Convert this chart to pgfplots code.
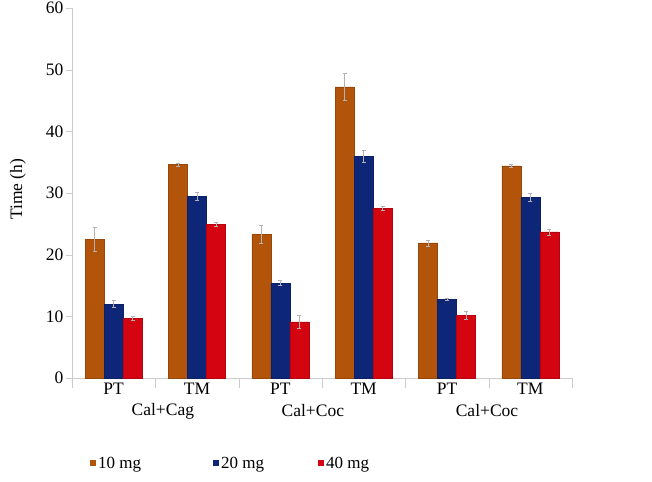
\documentclass[border=0pt]{standalone}
\usepackage{pgfplots}
\usepackage{pgfplotstable}
\pgfplotsset{compat=1.18}
\usepackage{fontspec}
\setmainfont{Liberation Serif}
\definecolor{c10}{RGB}{178,84,10}
\definecolor{c20}{RGB}{14,38,120}
\definecolor{c40}{RGB}{212,4,16}
\newcommand\fs{\fontsize{17.5bp}{20bp}\selectfont}
\newcommand\fl{\fontsize{17bp}{20bp}\selectfont}
\pgfplotstableread{
x y e
0 22.5 2.0
1 34.6 0.2
2 23.3 1.4
3 47.2 2.2
4 21.9 0.5
5 34.4 0.2
}\tA
\pgfplotstableread{
x y e
0 12.0 0.6
1 29.5 0.6
2 15.4 0.4
3 36.0 1.0
4 12.8 0.2
5 29.3 0.6
}\tB
\pgfplotstableread{
x y e
0 9.7 0.3
1 24.9 0.3
2 9.1 1.0
3 27.5 0.3
4 10.2 0.7
5 23.7 0.5
}\tC
\begin{document}
\begin{tikzpicture}
\path[use as bounding box] (-72bp,-104bp) rectangle (580bp,378bp);
\begin{axis}[
 at={(0,0)}, anchor=south west,
 scale only axis, width=500bp, height=370bp,
 ybar=0pt, bar width=19bp,
 xmin=-0.5, xmax=5.5, ymin=0, ymax=60,
 xtick={0,...,5}, xticklabels={PT,TM,PT,TM,PT,TM},
 minor xtick={-0.5,0.5,...,5.5},
 ytick={0,10,...,60},
 axis x line=bottom, axis y line=left,
 axis line style={-, gray!40},
 tick align=outside,
 major x tick style={draw=none},
 minor x tick style={gray!40},
 minor tick length=10bp, major tick length=6bp,
 y tick style={gray!40},
 /pgf/number format/assume math mode=true,
 ticklabel style={font=\fs},
 xticklabel style={yshift=4bp},
 yticklabel style={xshift=1bp},
 ylabel={Time (h)},
 ylabel style={font=\fs, at={(axis description cs:-0.108,0.51)}, anchor=center},
 legend columns=3,
 legend style={draw=none, font=\fl, inner sep=0pt, at={(rel axis cs:0.036,-0.23)}, anchor=west,
   /tikz/column 2/.style={column sep=70bp}, /tikz/column 4/.style={column sep=52bp}},
 legend image code/.code={\path[#1, draw=none] (0bp,-3bp) rectangle (6bp,3bp);},
 error bars/y dir=both, error bars/y explicit,
 error bars/error bar style={gray!60, line width=0.5pt},
 error bars/error mark options={rotate=90, mark size=2bp, gray!60, line width=0.5pt},
 clip=false,
]
\addplot[fill=c10, draw=c10!85!black, line width=0.3pt] table[x=x, y=y, y error=e] {\tA};
\addplot[fill=c20, draw=c20!85!black, line width=0.3pt] table[x=x, y=y, y error=e] {\tB};
\addplot[fill=c40, draw=c40!85!black, line width=0.3pt] table[x=x, y=y, y error=e] {\tC};
\legend{10 mg, 20 mg, 40 mg}
\node[font=\fs] at (axis cs:0.59,0) [yshift=-33bp] {Cal+Cag};
\node[font=\fs] at (axis cs:2.39,0) [yshift=-33bp] {Cal+Coc};
\node[font=\fs] at (axis cs:4.48,0) [yshift=-33bp] {Cal+Coc};
\end{axis}
\end{tikzpicture}
\end{document}
